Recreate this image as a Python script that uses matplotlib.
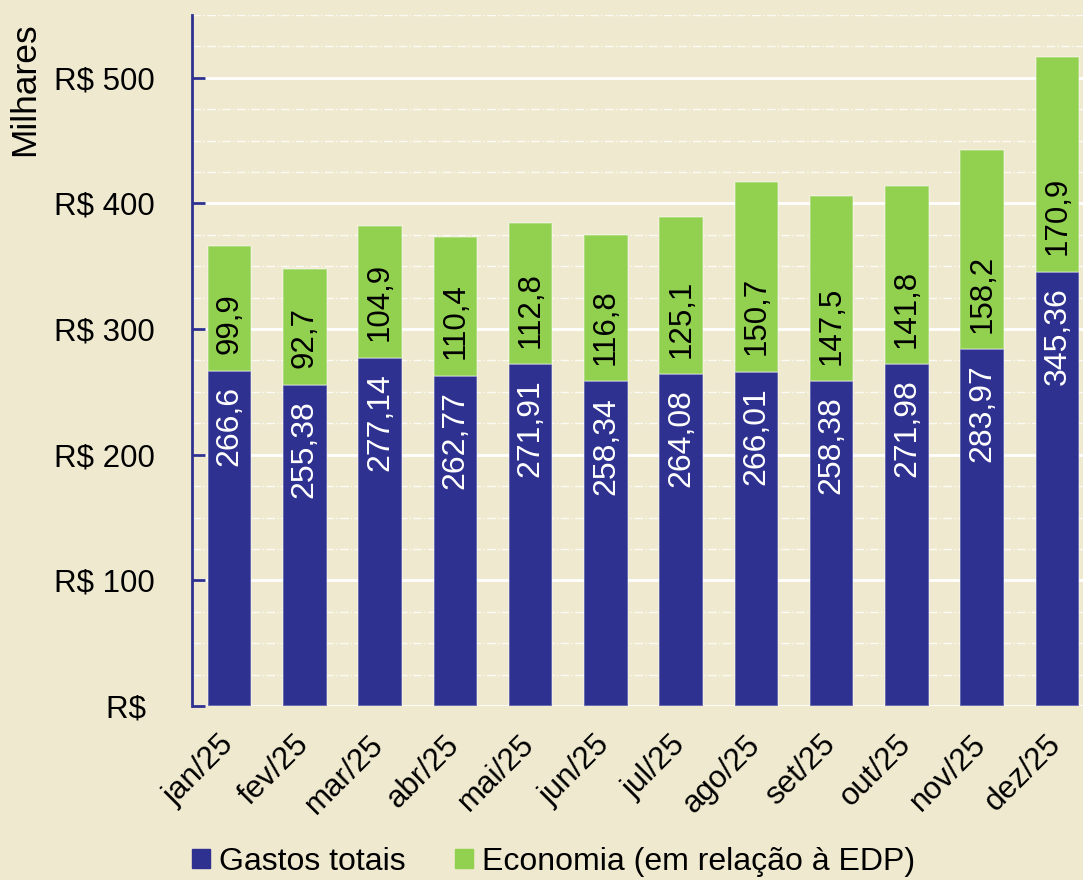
import numpy as np
import matplotlib
matplotlib.use('Agg')
import matplotlib.pyplot as plt
import matplotlib.transforms as mtrans
from matplotlib.patches import Patch
from matplotlib.ticker import MultipleLocator

# dados (R$ mil)
meses = ['jan/25', 'fev/25', 'mar/25', 'abr/25', 'mai/25', 'jun/25',
         'jul/25', 'ago/25', 'set/25', 'out/25', 'nov/25', 'dez/25']
gastos = [266.6, 255.38, 277.14, 262.77, 271.91, 258.34,
          264.08, 266.01, 258.38, 271.98, 283.97, 345.36]
economia = [99.9, 92.7, 104.9, 110.4, 112.8, 116.8,
            125.1, 150.7, 147.5, 141.8, 158.2, 170.9]
yticks = [0, 100, 200, 300, 400, 500]
ytick_labels = ['R$ ', 'R$ 100', 'R$ 200', 'R$ 300', 'R$ 400', 'R$ 500']

fundo = '#EFE9CF'
azul = '#2E3190'
verde = '#92D050'

plt.rcParams['font.family'] = ['Liberation Sans', 'DejaVu Sans']


def fmt(v):
    s = f'{v:.2f}'.rstrip('0').rstrip('.')
    return s.replace('.', ',')


fig = plt.figure(figsize=(10.83, 8.8), dpi=100, facecolor=fundo)
ax = fig.add_axes([192 / 1083, 174 / 880, 903 / 1083, 691 / 880])
ax.set_facecolor(fundo)

x = np.arange(len(meses))
larg = 0.58
ax.bar(x, gastos, larg, color=azul, edgecolor=(1, 1, 1, 0.35), linewidth=1.2, zorder=3)
ax.bar(x, economia, larg, bottom=gastos, color=verde, edgecolor=(1, 1, 1, 0.35), linewidth=1.2, zorder=3)

for i in range(len(meses)):
    ax.annotate(fmt(gastos[i]), (x[i], gastos[i]), xytext=(0, -11), textcoords='offset points',
                rotation=90, ha='center', va='top', color='white', fontsize=23, zorder=4)
    ax.annotate(fmt(economia[i]), (x[i], gastos[i]), xytext=(0, 12), textcoords='offset points',
                rotation=90, ha='center', va='bottom', color='black', fontsize=22.5, zorder=4)

ax.set_xlim(-0.5, len(meses) - 0.5)
ax.set_ylim(0, 550)

# grade
ax.yaxis.set_minor_locator(MultipleLocator(25))
ax.grid(axis='y', which='major', color='white', linewidth=2, zorder=1)
ax.grid(axis='y', which='minor', color='white', linewidth=1, linestyle='-.', alpha=0.8, zorder=1)
ax.set_axisbelow(True)

ax.set_yticks(yticks)
ax.set_yticklabels(ytick_labels, fontsize=22.5)
ax.tick_params(axis='y', which='major', direction='in', length=9, width=2, color=azul, pad=27)
ax.tick_params(axis='y', which='minor', length=0)
ax.set_xticks(x)
ax.set_xticklabels(meses, rotation=45, ha='right', fontsize=22.5)
ax.tick_params(axis='x', length=0, pad=17)
desloc = mtrans.ScaledTranslation(10 / 100, 0, fig.dpi_scale_trans)
for lb in ax.get_xticklabels():
    lb.set_transform(lb.get_transform() + desloc)

for s in ['top', 'right', 'bottom']:
    ax.spines[s].set_visible(False)
ax.spines['left'].set_color(azul)
ax.spines['left'].set_linewidth(2)

fig.text(25 / 1083, 1 - 22 / 880, 'Milhares', rotation=90, ha='center', va='top', fontsize=25.5)

handles = [Patch(color=azul, label='Gastos totais'),
           Patch(color=verde, label='Economia (em relação à EDP)')]
fig.legend(handles=handles, loc='center left', bbox_to_anchor=(192 / 1083, 1 - 862 / 880),
           ncol=2, frameon=False, fontsize=23, handlelength=0.55, handleheight=0.55,
           handletextpad=0.3, columnspacing=1.55, borderpad=0, borderaxespad=0)

fig.savefig('out.png', dpi=100, facecolor=fundo)
